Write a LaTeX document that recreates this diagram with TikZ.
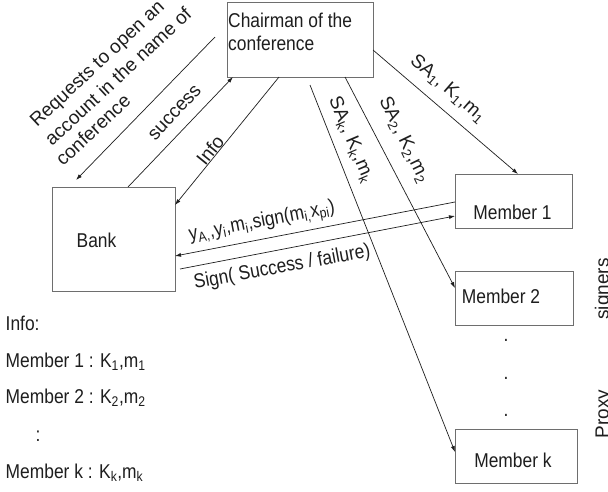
\documentclass[tikz,border=0pt]{standalone}
\usepackage{fontspec}
\setmainfont{Liberation Sans}
\newfontfamily\hfam[FakeStretch=0.87]{Liberation Sans}
\newcommand\hsz{\hfam\fontsize{20}{23}\selectfont}
\newcommand\rsz{\fontsize{19}{23}\selectfont}
\usetikzlibrary{arrows.meta}
\definecolor{boxgray}{HTML}{6E6E6E}
\definecolor{ink}{HTML}{1E1E1E}
\begin{document}
\begin{tikzpicture}[x=1pt,y=-1pt,
  box/.style={draw=boxgray, line width=0.8pt, inner sep=0pt, outer sep=0pt},
  conn/.style={draw=ink, line width=0.7pt, -{Latex[length=6pt,width=4pt]}},
  hl/.style={inner sep=0pt, text=ink, font=\hsz},
  rl/.style={inner sep=0pt, text=ink, font=\rsz}]
\fill[white] (0,0) rectangle (608,491);
\useasboundingbox (0,0) rectangle (608,491);

% boxes
\node[box, minimum width=146pt, minimum height=75pt] (chair) at (300,39.5) {};
\node[box, minimum width=123pt, minimum height=104pt] (bank) at (113.5,239) {};
\node[box, minimum width=117pt, minimum height=54pt] (m1) at (513.5,201) {};
\node[box, minimum width=118pt, minimum height=54pt] (m2) at (514,298) {};
\node[box, minimum width=122pt, minimum height=54pt] (mk) at (516,456) {};

% box texts
\node[hl, anchor=north west, align=left] (chairt) at (228,12.4) {Chairman of the\\conference};
\node[hl, anchor=base] (bankt) at (96.5,247) {Bank};
\node[hl, anchor=base] (t1) at (512.5,219) {Member 1};
\node[hl, anchor=base] (t2) at (501,303) {Member 2};
\node[hl, anchor=base] (tk) at (513,467) {Member k};

% connectors
\coordinate (rqs) at (215,37);
\coordinate (rqe) at (76,180);
\draw[conn] (rqs) -- (rqe);
\draw[conn] ([xshift=14.5pt]bank.north) -- ([xshift=6pt]chair.south west);
\draw[conn] ([xshift=52pt]chair.south west) -- ([yshift=-18pt]bank.north east);
\draw[conn] ([yshift=-48pt]chair.north east) -- ([xshift=63pt]m1.north west);
\draw[conn] ([xshift=118pt]chair.south west) -- ([yshift=-17pt]m2.north west);
\coordinate (sks) at (310,85);
\draw[conn] (sks) -- ([yshift=-23pt]mk.north west);
\draw[conn] ([yshift=-28pt]m1.north west) -- ([yshift=-69pt]bank.north east);
\coordinate (sgs) at (180,269);
\draw[conn] (sgs) -- ([yshift=-42pt]m1.north west);

% connector labels
\node[rl, rotate=43, anchor=base west] (rq1) at (37,128) {Requests to open an};
\node[rl, rotate=43, anchor=base west] (rq2) at (52,147) {account in the name of};
\node[rl, rotate=43, anchor=base west] (rq3) at (63,167) {conference};
\node[rl, rotate=47] (succ) at (175,113) {success};
\node[rl, rotate=51] (info) at (210,150) {Info};
\node[rl, rotate=-41] (sa1) at (448,89) {SA\textsubscript{1}, K\textsubscript{1},m\textsubscript{1}};
\node[rl, rotate=-64] (sa2) at (404,140) {SA\textsubscript{2}, K\textsubscript{2},m\textsubscript{2}};
\node[rl, rotate=-67] (sak) at (351,140) {SA\textsubscript{k}, K\textsubscript{k},m\textsubscript{k}};
\node[hl, rotate=11, anchor=base west] (ya) at (190,241) {y\textsubscript{A,},y\textsubscript{i},m\textsubscript{i},sign(m\textsubscript{i,}x\textsubscript{pi})};
\node[hl, rotate=10.5, anchor=base west] (sg) at (195,289) {Sign( Success / failure)};

% dots between members
\node[hl, anchor=base] (d1) at (506,341) {.};
\node[hl, anchor=base] (d2) at (506,379) {.};
\node[hl, anchor=base] (d3) at (506,416) {.};

% side label
\node[rl, rotate=90, anchor=base] (px) at (608.5,414) {Proxy};
\node[rl, rotate=90, anchor=base] (sgn) at (608.5,289) {signers};

% info list
\node[hl, anchor=base west] (il0) at (5.5,330) {Info:};
\node[hl, anchor=base west] (il1) at (5.5,367) {Member 1 : K\textsubscript{1},m\textsubscript{1}};
\node[hl, anchor=base west] (il2) at (5.5,403) {Member 2 : K\textsubscript{2},m\textsubscript{2}};
\node[hl, anchor=base] (il3) at (38,441) {:};
\node[hl, anchor=base west] (il4) at (5.5,478) {Member k : K\textsubscript{k},m\textsubscript{k}};
\end{tikzpicture}
\end{document}
